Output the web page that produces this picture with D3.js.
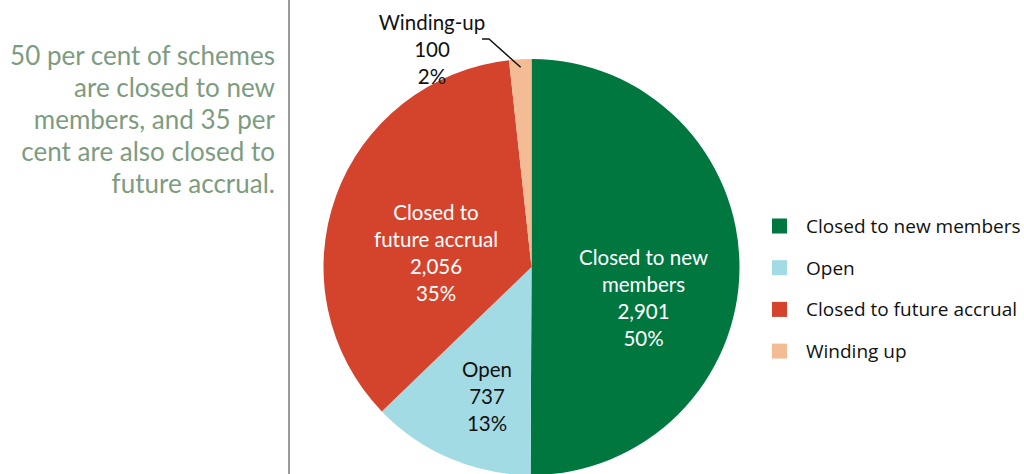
<!DOCTYPE html>
<html><head><meta charset="utf-8">
<script src="https://cdn.jsdelivr.net/npm/d3@7"></script>
<style>body{margin:0;background:#fff}svg{display:block}</style>
</head><body>
<svg id="c" width="1024" height="474"></svg>
<script>
const categories = ["Closed to new members", "Open", "Closed to future accrual", "Winding up"];
const values = [2901, 737, 2056, 100];
const percents = ["50%", "13%", "35%", "2%"];
const sliceLabels = [["Closed to new", "members"], ["Open"], ["Closed to", "future accrual"], ["Winding-up"]];
const colors = ["#00773f", "#a3dbe4", "#d4442c", "#f4bc94"];
const textColors = ["#ffffff", "#111111", "#ffffff", "#111111"];
const note = ["50 per cent of schemes", "are closed to new", "members, and 35 per", "cent are also closed to", "future accrual."];

const svg = d3.select("#c");
const fmt = d3.format(",");
const cx = 531.5, cy = 267, R = 208;

// note
const nt = svg.append("text").attr("text-anchor", "end").attr("fill", "#7d9c7f")
  .style("font-family", "Lato, sans-serif").style("font-size", "26px");
note.forEach((l, i) => nt.append("tspan").attr("x", 275).attr("y", 65 + i * 32).text(l));

// divider
svg.append("line").attr("x1", 289).attr("x2", 289).attr("y1", 0).attr("y2", 474)
  .attr("stroke", "#9a9a9a").attr("stroke-width", 2);

const pie = d3.pie().sort(null).value(d => d)(values);
const arc = d3.arc().innerRadius(0).outerRadius(R);
const g = svg.append("g").attr("transform", `translate(${cx},${cy})`);
g.selectAll("path").data(pie).join("path").attr("d", arc).attr("fill", (d, i) => colors[i]);

// labels positions (offsets from center)
const labelPos = [[112, -2], [-44.5, 110], [-95.5, -47], [-99.5, -237]];
const lineH = 27;
pie.forEach((d, i) => {
  const lines = sliceLabels[i].concat([fmt(values[i]), percents[i]]);
  const t = svg.append("text").attr("text-anchor", "middle").attr("fill", textColors[i])
    .style("font-family", "Lato, sans-serif").style("font-size", "20.5px");
  lines.forEach((l, j) => t.append("tspan").attr("x", cx + labelPos[i][0])
    .attr("y", cy + labelPos[i][1] + j * lineH).text(l));
});

// leader line for winding-up
const mid = (pie[3].startAngle + pie[3].endAngle) / 2;
const pr = R - 8;
svg.append("polyline").attr("fill", "none").attr("stroke", "#111").attr("stroke-width", 1.5)
  .attr("points", [[482, 39], [489, 39], [cx + Math.sin(mid) * pr, cy - Math.cos(mid) * pr]].map(p => p.join(",")).join(" "));

// legend
const lg = svg.append("g");
categories.forEach((c, i) => {
  const y = 226 + i * 41.7;
  lg.append("rect").attr("x", 772).attr("y", y - 7.5).attr("width", 15).attr("height", 15).attr("fill", colors[i]);
  lg.append("text").attr("x", 806).attr("y", y + 7).attr("fill", "#111")
    .style("font-family", "'Open Sans', sans-serif").style("font-size", "19px").text(c);
});
</script>
</body></html>
